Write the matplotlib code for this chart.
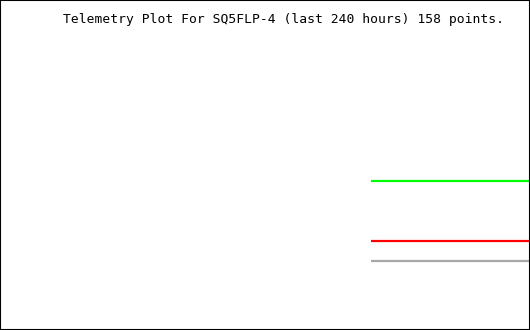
"""Telemetry plot for SQ5FLP-4 over the last 240 hours."""

import matplotlib
matplotlib.use("Agg")
import matplotlib.pyplot as plt

# Time axis: hours relative to now (window covers last 240 hours)
window_hours = [-240, 0]

# Telemetry series (flat over the period that has data)
hours = [-72, 0]
channel_green = [45.2, 45.2]
channel_red = [27.1, 27.1]
channel_gray = [21.0, 21.0]

title = "Telemetry Plot For SQ5FLP-4 (last 240 hours) 158 points."

fig = plt.figure(figsize=(5.3, 3.3), dpi=100)
ax = fig.add_axes([0, 0, 1, 1])

ax.plot(hours, channel_gray, color="#a8a8a8", linewidth=1.6, solid_capstyle="butt")
ax.plot(hours, channel_red, color="#ff0000", linewidth=1.6, solid_capstyle="butt")
ax.plot(hours, channel_green, color="#00ff00", linewidth=1.6, solid_capstyle="butt")

ax.set_xlim(window_hours)
ax.set_ylim(0, 100)
ax.set_xticks([])
ax.set_yticks([])
for s in ax.spines.values():
    s.set_color("black")
    s.set_linewidth(1.5)

# title sits right of centre, gnuplot-style
fig.text(283.5 / 530, 1 - 19 / 330, title, ha="center", va="center",
         family="DejaVu Sans Mono", fontsize=9.4, color="black")

fig.savefig("out.png", dpi=100, facecolor="white")
